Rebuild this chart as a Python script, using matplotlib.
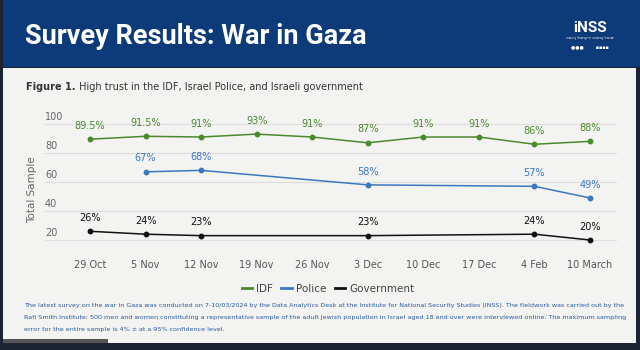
import numpy as np
import matplotlib
matplotlib.use('Agg')
import matplotlib.pyplot as plt
import matplotlib.patches as patches
from matplotlib import font_manager

# Data
dates = ['29 Oct', '5 Nov', '12 Nov', '19 Nov', '26 Nov', '3 Dec', '10 Dec', '17 Dec', '4 Feb', '10 March']
idf = [89.5, 91.5, 91, 93, 91, 87, 91, 91, 86, 88]
police = [None, 67, 68, None, None, 58, None, None, 57, 49]
government = [26, 24, 23, None, None, 23, None, None, 24, 20]
yticks = [20, 40, 60, 80, 100]

W, H = 640, 350
fig = plt.figure(figsize=(6.4, 3.5), dpi=100)
fig.patch.set_facecolor('#1c2433')

def fx(px):
    return px / W

def fy(py):
    return 1 - py / H

# pick a narrow font for the footnote if one is there
names = {f.name for f in font_manager.fontManager.ttflist}
narrow = 'Liberation Sans Narrow' if 'Liberation Sans Narrow' in names else 'DejaVu Sans'

# background panels
fig.add_artist(patches.Rectangle((fx(3), fy(343)), fx(633), 275 / H, transform=fig.transFigure,
                                 facecolor='#f3f3f1', edgecolor='none', zorder=0))
fig.add_artist(patches.Rectangle((fx(3), fy(67)), fx(637), 67 / H, transform=fig.transFigure,
                                 facecolor='#0d3a78', edgecolor='none', zorder=0))
fig.add_artist(patches.Rectangle((fx(3), fy(343)), fx(105), 4 / H, transform=fig.transFigure,
                                 facecolor='#555555', edgecolor='none', zorder=1))

# header
fig.text(fx(25), fy(37), 'Survey Results: War in Gaza', color='white', fontsize=19.5,
         fontweight='bold', family='Roboto', va='center', ha='left')
fig.text(fx(590), fy(28), 'iNSS', color='white', fontsize=11, fontweight='bold',
         family='Roboto', va='center', ha='center')
fig.text(fx(590), fy(38), 'המכון למחקרי ביטחון לאומי', color='white', fontsize=3,
         family='DejaVu Sans', va='center', ha='center')
fig.text(fx(590), fy(47), '●●●        ▪▪▪▪', color='white', fontsize=3.5,
         family='DejaVu Sans', va='center', ha='center')

# axes
ax = fig.add_axes([fx(45), fy(250), fx(572), 142 / H])
ax.set_facecolor('none')
ax.set_xlim(-0.81, 9.486)
ax.set_ylim(13.1, 111)
for s in ax.spines.values():
    s.set_visible(False)

# caption
t1 = fig.text(fx(26), fy(87), 'Figure 1.', color='#333333', fontsize=7, fontweight='bold',
              family='DejaVu Sans', va='center', ha='left')
ax.annotate(' High trust in the IDF, Israel Police, and Israeli government',
            xy=(1, 0.5), xycoords=t1, va='center', ha='left', fontsize=7,
            color='#333333', family='DejaVu Sans', annotation_clip=False)

for v in yticks:
    ax.axhline(v, color='#dcdcdc', lw=0.8, zorder=1)
    ax.text(0.0, v + 1.2, str(v), transform=ax.get_yaxis_transform(), ha='left', va='bottom',
            fontsize=7, color='#666666')
ax.set_yticks([])
x = np.arange(len(dates))
ax.set_xticks(x)
ax.set_xticklabels(dates, fontsize=7, color='#555555')
ax.tick_params(axis='x', length=0, pad=7)

series = [(idf, '#4a8a2c', 'IDF'), (police, '#3b78bf', 'Police'), (government, '#111111', 'Government')]
for vals, col, name in series:
    xs = [i for i, v in enumerate(vals) if v is not None]
    ys = [v for v in vals if v is not None]
    ax.plot(xs, ys, color=col, lw=1.1, marker='o', markersize=3.2, label=name, zorder=3)
    for xi, yi in zip(xs, ys):
        lab = ('%g' % yi) + '%'
        ax.annotate(lab, (xi, yi), xytext=(0, 6), textcoords='offset points', ha='center',
                    va='bottom', fontsize=7, color=col)

fig.text(fx(32), fy(190), 'Total Sample', rotation=90, ha='center',
         va='center', fontsize=7.5, color='#666666')

# legend
handles = [plt.Line2D([], [], color=c, lw=2) for _, c, _ in series]
leg = fig.legend(handles, [n for _, _, n in series], loc='center', ncol=3,
                 bbox_to_anchor=(fx(328), fy(289)), frameon=False, fontsize=7.5,
                 handlelength=1.0, handletextpad=0.4, columnspacing=0.8)
for t in leg.get_texts():
    t.set_color('#444444')

# footnote, shrunk to fit the reference line width
note = ['The latest survey on the war in Gaza was conducted on 7-10/03/2024 by the Data Analytics Desk at the Institute for National Security Studies (INSS). The fieldwork was carried out by the',
        'Rafi Smith Institute; 500 men and women constituting a representative sample of the adult Jewish population in Israel aged 18 and over were interviewed online. The maximum sampling',
        'error for the entire sample is 4% \u00b1 at a 95% confidence level.']
texts = []
for i, line in enumerate(note):
    texts.append(fig.text(fx(24), fy(305 + i * 12.5), line, color='#2a5aa0', fontsize=5.4,
                          family=narrow, va='center', ha='left'))
r = fig.canvas.get_renderer()
w = texts[0].get_window_extent(renderer=r).width
size = 5.4 * 597 / w
for t in texts:
    t.set_fontsize(size)

fig.savefig('out.png', dpi=100, facecolor=fig.get_facecolor())
